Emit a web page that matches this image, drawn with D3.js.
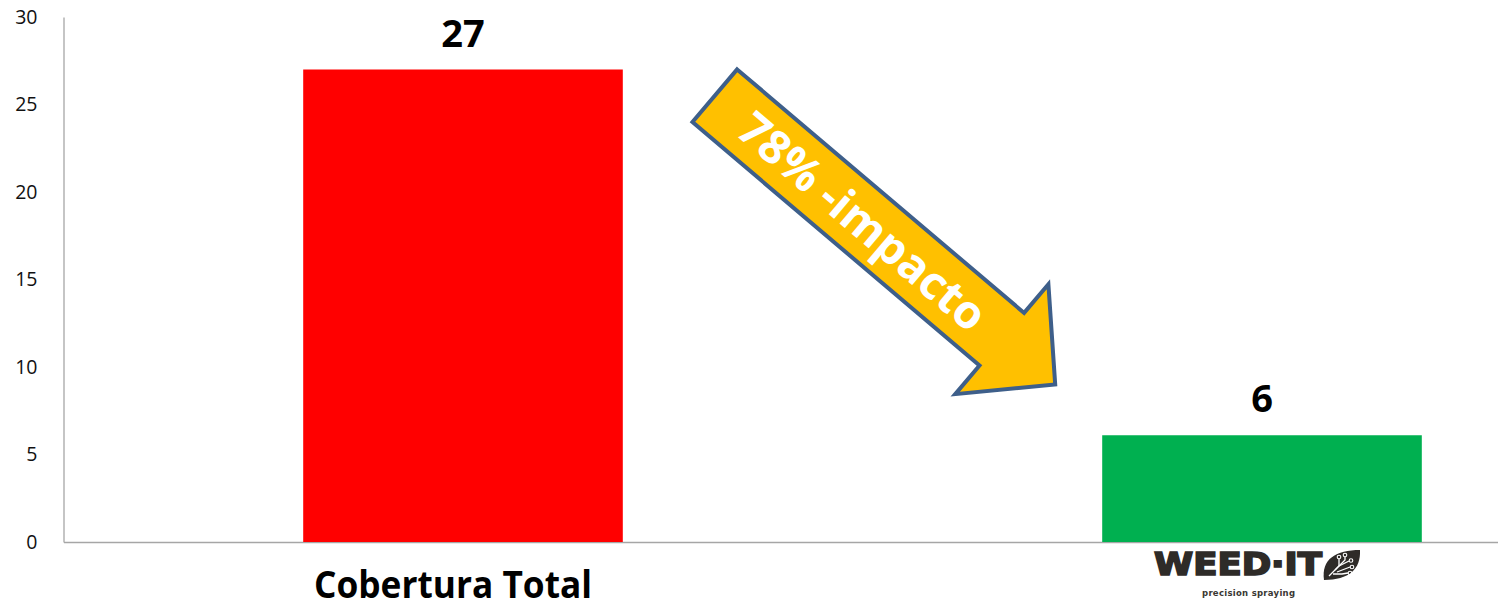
<!DOCTYPE html>
<html>
<head>
<meta charset="utf-8">
<script src="https://cdn.jsdelivr.net/npm/d3@7"></script>
<style>
  html, body { margin: 0; padding: 0; background: #fff; }
  svg { display: block; }
</style>
</head>
<body>
<svg id="chart" width="1498" height="608"></svg>
<script>
// ---- data ----
const categories = ["Cobertura Total", "WEED·IT"];
const values = [27, 6.1];
const valueLabels = ["27", "6"];
const barColors = ["#FF0000", "#00B050"];
const yTicks = [0, 5, 10, 15, 20, 25, 30];
const arrowText = "78% -impacto";
const arrowFrom = 25.5;   // value level at the arrow's tail
const arrowTo = 9;        // value level at the arrow's tip
const logoTagline = "precision spraying";

// ---- layout ----
const svg = d3.select("#chart");
const x = d3.scaleBand().domain(categories).range([63.5, 1661.5])
  .paddingInner(0.6).paddingOuter(0.3);
const y = d3.scaleLinear().domain([0, 30]).range([542, 17]);
const bw = x.bandwidth();

// y axis
const yAxis = svg.append("g").attr("transform", "translate(63.5,0)")
  .call(d3.axisLeft(y).tickValues(yTicks).tickSize(0).tickPadding(26));
yAxis.select(".domain").attr("stroke", "#A6A6A6").attr("stroke-width", 1.3);
yAxis.selectAll("text").attr("font-family", "'Open Sans', sans-serif")
  .attr("font-size", 19.5).attr("fill", "#111");

// x axis
const xAxis = svg.append("g").attr("transform", "translate(0,542)")
  .call(d3.axisBottom(x).tickSize(0).tickSizeOuter(0).tickFormat(""));
xAxis.select(".domain").attr("stroke", "#A6A6A6").attr("stroke-width", 1.3);

// bars
svg.selectAll("rect.bar").data(categories).join("rect")
  .attr("class", "bar")
  .attr("x", d => x(d))
  .attr("width", bw)
  .attr("y", (d, i) => y(values[i]))
  .attr("height", (d, i) => y(0) - y(values[i]))
  .attr("fill", (d, i) => barColors[i]);

// value labels
svg.selectAll("text.val").data(categories).join("text")
  .attr("class", "val")
  .attr("x", d => x(d) + bw / 2)
  .attr("y", (d, i) => y(values[i]) - 23)
  .attr("text-anchor", "middle")
  .attr("font-family", "'Open Sans', sans-serif")
  .attr("font-weight", 700)
  .attr("font-size", 38)
  .attr("fill", "#000")
  .text((d, i) => valueLabels[i]);

// category label 1
svg.append("text")
  .attr("x", x(categories[0]) + bw / 2 - 10)
  .attr("y", 598)
  .attr("text-anchor", "middle")
  .attr("font-family", "'Open Sans', sans-serif")
  .attr("font-weight", 700)
  .attr("font-size", 37)
  .attr("textLength", 278)
  .attr("lengthAdjust", "spacingAndGlyphs")
  .attr("fill", "#000")
  .text(categories[0]);

// category 2: WEED·IT logo
const logo = svg.append("g")
  .attr("transform", `translate(${x(categories[1]) + bw / 2},0)`);
logo.append("text")
  .attr("x", -108).attr("y", 575)
  .attr("font-family", "'DejaVu Sans Condensed', 'DejaVu Sans', sans-serif")
  .attr("font-weight", 700)
  .attr("font-size", 32)
  .attr("textLength", 168)
  .attr("lengthAdjust", "spacingAndGlyphs")
  .attr("fill", "#2E2B28")
  .attr("stroke", "#2E2B28")
  .attr("stroke-width", 1.6)
  .attr("stroke-linejoin", "miter")
  .text(categories[1]);
logo.append("text")
  .attr("x", -60).attr("y", 596)
  .attr("font-family", "'DejaVu Sans', sans-serif")
  .attr("font-weight", 700)
  .attr("font-size", 8.5)
  .attr("textLength", 93)
  .attr("lengthAdjust", "spacing")
  .attr("fill", "#3a3733")
  .text(logoTagline);
// leaf icon
const leaf = logo.append("g").attr("transform", "translate(62,550)");
leaf.append("path")
  .attr("d", "M0,30 C-3,9 12,0 36,0 C37,19 25,30 0,30 Z")
  .attr("fill", "#2E2B28");
const circuit = [
  "M5,26 L15,16 L15,9",
  "M11,20 L21,10 L21,7",
  "M15,16 L25,11",
  "M13,22 L26,17",
  "M9,24 L18,24 L24,23"
];
leaf.selectAll("path.c").data(circuit).join("path")
  .attr("class", "c").attr("d", d => d)
  .attr("fill", "none").attr("stroke", "#fff").attr("stroke-width", 1.3);
const dots = [[15, 7], [21, 5], [27, 10.5], [28, 17], [26, 23]];
leaf.selectAll("circle").data(dots).join("circle")
  .attr("cx", d => d[0]).attr("cy", d => d[1]).attr("r", 1.8)
  .attr("fill", "none").attr("stroke", "#fff").attr("stroke-width", 1.1);

// ---- arrow annotation ----
const tail = [x(categories[0]) + bw + 92, y(arrowFrom)];
const tip = [x(categories[1]) - 47, y(arrowTo)];
const ang = Math.atan2(tip[1] - tail[1], tip[0] - tail[0]) * 180 / Math.PI;
const L = Math.hypot(tip[0] - tail[0], tip[1] - tail[1]);
const sw = 34.5, hl = 70, hw = 72;
const pts = [[0, -sw], [L - hl, -sw], [L - hl, -hw], [L, 0], [L - hl, hw], [L - hl, sw], [0, sw]];
const arrow = svg.append("g")
  .attr("transform", `translate(${tail[0]},${tail[1]}) rotate(${ang})`);
arrow.append("path")
  .attr("d", d3.line()(pts) + "Z")
  .attr("fill", "#FFC000")
  .attr("stroke", "#3E5F8A")
  .attr("stroke-width", 4)
  .attr("stroke-linejoin", "miter");
arrow.append("text")
  .attr("x", 194).attr("y", 0).attr("dy", "0.36em")
  .attr("text-anchor", "middle")
  .attr("font-family", "'Open Sans', sans-serif")
  .attr("font-weight", 700)
  .attr("font-size", 46)
  .attr("fill", "#fff")
  .text(arrowText);
</script>
</body>
</html>
